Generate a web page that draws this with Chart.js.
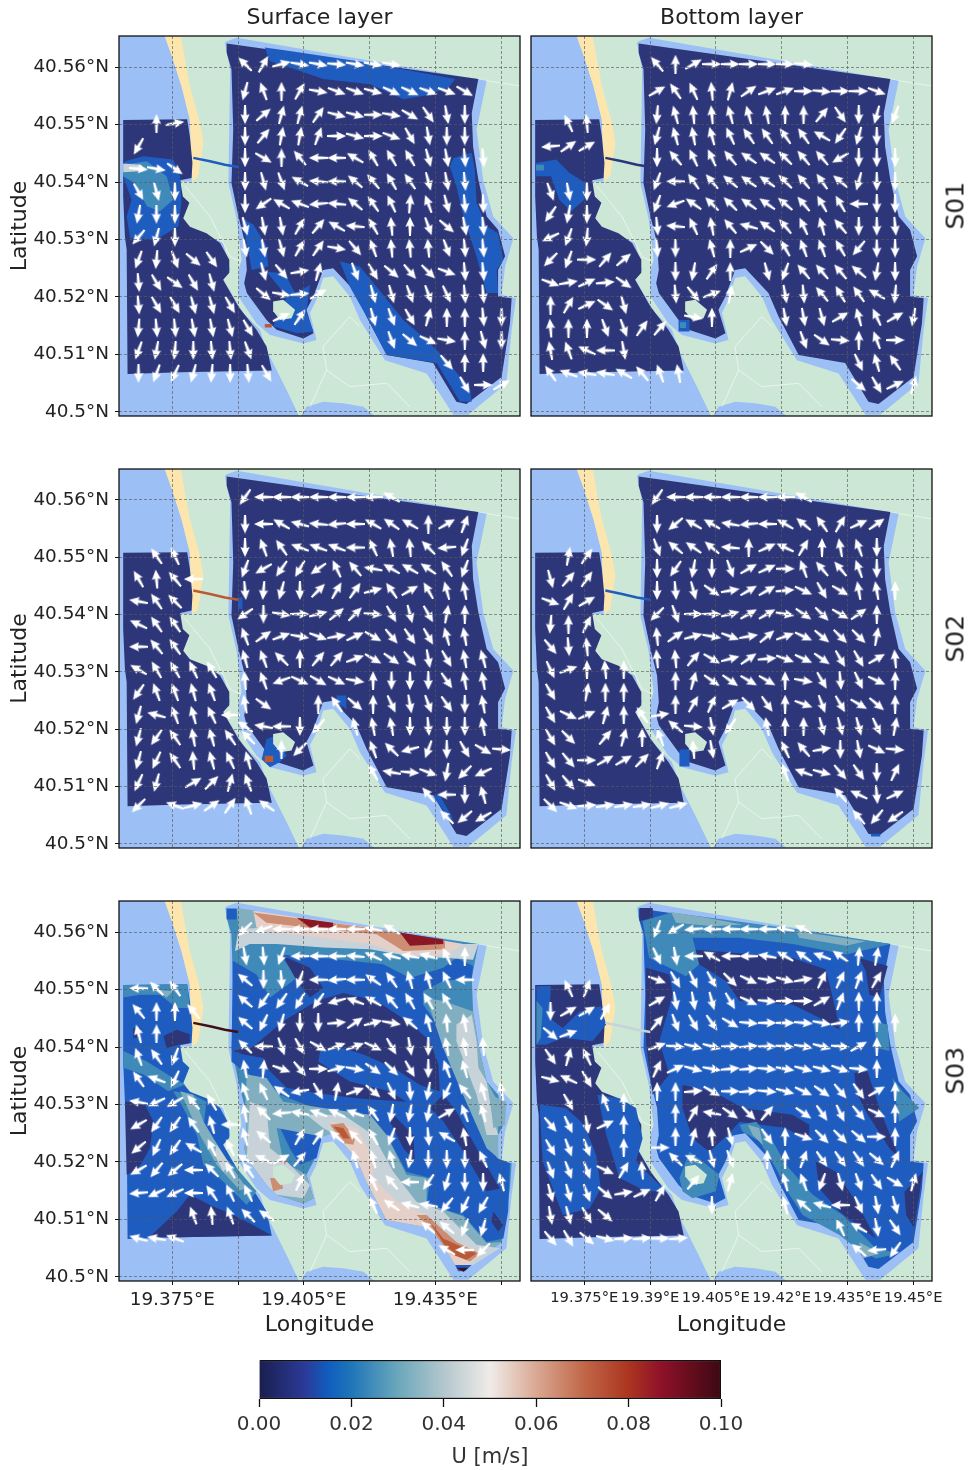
<!DOCTYPE html>
<html lang="en">
<head>
  <meta charset="UTF-8">
  <title>Surface and bottom layer currents</title>
  <style>
    body { margin: 0; background: #fff; }
    #page { position: relative; width: 968px; height: 1470px; overflow: hidden; }
    #page canvas { position: absolute; filter: blur(0.45px); }
    .run {
      position: absolute; left: 935px; width: 40px; text-align: center;
      font: 25px "DejaVu Sans", sans-serif; color: #222; transform: rotate(-90deg);
    }
  </style>
  <script src="https://cdn.jsdelivr.net/npm/chart.js"></script>
</head>
<body>
<div id="page">
  <canvas id="c0" width="525" height="420" style="left:0;top:0"></canvas>
  <canvas id="c1" width="442" height="420" style="left:526px;top:0"></canvas>
  <canvas id="c2" width="525" height="387" style="left:0;top:465px"></canvas>
  <canvas id="c3" width="442" height="387" style="left:526px;top:465px"></canvas>
  <canvas id="c4" width="525" height="443" style="left:0;top:897px"></canvas>
  <canvas id="c5" width="442" height="443" style="left:526px;top:897px"></canvas>
  <canvas id="bar" width="600" height="120" style="left:200px;top:1350px"></canvas>
  <div class="run" style="top:195px">S01</div>
  <div class="run" style="top:628px">S02</div>
  <div class="run" style="top:1060px">S03</div>
</div>

<script>
const _ = null;

// axes
const lonTicks = [19.375, 19.39, 19.405, 19.42, 19.435, 19.45];
const latTicks = [40.5, 40.51, 40.52, 40.53, 40.54, 40.55, 40.56];
const latLabels = ['40.5°N', '40.51°N', '40.52°N', '40.53°N', '40.54°N', '40.55°N', '40.56°N'];
const lonLabelsLeft = ['19.375°E', '', '19.405°E', '', '19.435°E', ''];
const lonLabelsRight = ['19.375°E', '19.39°E', '19.405°E', '19.42°E', '19.435°E', '19.45°E'];

// colour bar and contour bands (0.01 m/s steps)
const barTicks = [0, 0.02, 0.04, 0.06, 0.08, 0.1];
const barStops = [0, 0.1, 0.15, 0.2, 0.3, 0.4, 0.5, 0.6, 0.7, 0.8, 0.87, 1];
const barColors = ['#1a1f4d', '#2b3a99', '#0f5dbf', '#1f76b8', '#6aa7bb', '#b3c7cd', '#f0ebe8', '#d9a893', '#c2694a', '#ac3520', '#8f1129', '#3c0912'];
const bandColors = ['#2c3678', '#1f5cc0', '#3f8ab9', '#82afc0', '#c8d3d9', '#e5d0c9', '#cc8d73', '#b85a38', '#8a1726', '#40101a'];

// map shapes, in 1e-4 degrees east of 19.36 and north of 40.50
const lonOrigin = 19.36;
const latOrigin = 40.5;
const landShape = [[0, -20], [960, -20], [960, 670], [0, 670]];
const seaShape = [[20, 660], [130, 660], [149, 619], [171, 567], [190, 509], [194, 422], [194, 401], [168, 401], [175, 335], [198, 317], [266, 294], [282, 247], [266, 230], [312, 172], [350, 143], [365, 108], [388, 73], [411, 38], [441, -10], [20, -10]];
const bayShape = [[441, -10], [456, 9], [494, 18], [540, 15], [586, 9], [616, -10]];
const beachShape = [[130, 660], [149, 619], [171, 567], [190, 509], [194, 422], [196, 401], [209, 410], [221, 468], [213, 503], [190, 567], [179, 613], [168, 660]];
const road1 = [[179, 393], [236, 340], [282, 270], [312, 259]];
const road2 = [[464, 9], [502, 73], [494, 114], [555, 166], [578, 148]];
const road3 = [[502, 73], [555, 44], [639, 50], [692, 9]];
const road4 = [[844, 579], [943, 567]];
const mainHalo = [[274, 645], [297, 651], [867, 576], [844, 491], [859, 404], [882, 340], [928, 302], [909, 253], [901, 204], [934, 198], [924, 143], [912, 50], [825, -5], [791, -5], [730, 67], [635, 90], [578, 160], [555, 201], [517, 236], [494, 233], [479, 195], [464, 172], [479, 125], [449, 119], [373, 134], [342, 154], [301, 201], [301, 247], [308, 265], [297, 335], [278, 398], [282, 596], [270, 642]];
const leftBasin = [[38, 508], [184, 509], [190, 480], [196, 433], [194, 407], [168, 403], [174, 375], [189, 364], [175, 337], [190, 322], [228, 311], [259, 294], [280, 265], [280, 242], [266, 230], [301, 183], [342, 143], [365, 114], [377, 72], [168, 69], [48, 66], [46, 282], [42, 305], [38, 375]];
const mainBasin = [[274, 641], [848, 579], [833, 520], [836, 462], [848, 404], [867, 340], [893, 317], [909, 271], [893, 247], [893, 201], [924, 198], [920, 154], [901, 61], [821, 14], [798, 18], [745, 85], [639, 99], [593, 166], [570, 207], [517, 250], [494, 247], [472, 201], [456, 178], [472, 137], [449, 128], [388, 143], [365, 160], [320, 207], [314, 224], [320, 247], [316, 294], [301, 340], [285, 398], [289, 491], [285, 596], [274, 625]];
const islandShape = [[380, 192], [403, 195], [430, 178], [422, 163], [396, 160], [380, 175]];
const channelLine = [[198, 442], [236, 436], [270, 430], [301, 426]];
const channelColors = [bandColors[1], bandColors[0], bandColors[7], bandColors[1], bandColors[9], bandColors[4]];

// contour patches per panel: [band, outline], painted in order
const fieldS01Surface = [
  [0, leftBasin], [0, mainBasin],
  [1, [[361, 634], [418, 628], [593, 608], [795, 579], [783, 567], [738, 552], [677, 544], [601, 570], [494, 579], [418, 599], [373, 610]]],
  [1, [[42, 436], [84, 445], [152, 439], [168, 410], [171, 364], [164, 323], [114, 300], [54, 302], [46, 340], [57, 369], [38, 410]]],
  [2, [[38, 430], [92, 436], [137, 410], [152, 369], [122, 349], [92, 358], [65, 398], [38, 410]]],
  [4, [[38, 432], [80, 430], [84, 419], [38, 417]]],
  [1, [[791, 442], [833, 451], [840, 422], [844, 364], [867, 323], [893, 311], [905, 265], [890, 247], [893, 207], [867, 207], [844, 270], [814, 340], [798, 392], [783, 427]]],
  [1, [[308, 337], [335, 326], [365, 288], [369, 253], [331, 247], [320, 294]]],
  [1, [[532, 262], [578, 253], [616, 218], [677, 160], [730, 125], [768, 96], [829, 41], [833, 18], [806, 18], [753, 85], [639, 99], [593, 166], [555, 218]]],
  [1, [[365, 244], [407, 241], [430, 207], [464, 221], [456, 172], [472, 140], [434, 137], [380, 149], [411, 201]]],
  [7, [[361, 153], [377, 153], [377, 147], [361, 147]]]
];
const fieldS01Bottom = [
  [0, leftBasin], [0, mainBasin],
  [1, [[40, 433], [86, 439], [116, 416], [154, 398], [150, 369], [120, 349], [93, 369], [74, 410], [40, 410]]],
  [2, [[40, 430], [58, 430], [58, 420], [40, 420]]],
  [1, [[365, 160], [390, 160], [390, 140], [365, 140]]],
  [2, [[368, 156], [382, 156], [382, 146], [368, 146]]]
];
const fieldS02Surface = [
  [0, leftBasin], [0, mainBasin],
  [1, [[365, 183], [388, 189], [411, 154], [396, 143], [373, 134], [354, 148]]],
  [7, [[361, 154], [380, 154], [380, 143], [361, 143]]],
  [1, [[300, 430], [310, 430], [310, 410], [300, 410]]],
  [1, [[525, 259], [547, 259], [547, 235], [525, 247]]],
  [1, [[745, 85], [760, 85], [790, 45], [780, 45]]]
];
const fieldS02Bottom = [
  [0, leftBasin], [0, mainBasin],
  [1, [[367, 165], [390, 165], [390, 135], [367, 135]]],
  [1, [[804, 18], [825, 18], [825, 13], [804, 13]]]
];
const fieldS03Surface = [
  [1, leftBasin],
  [0, [[42, 305], [84, 305], [107, 271], [99, 224], [73, 189], [46, 178]]],
  [0, [[130, 419], [160, 430], [190, 422], [190, 407], [164, 404], [137, 398]]],
  [0, [[61, 433], [80, 433], [73, 416], [61, 416]]],
  [0, [[99, 70], [160, 114], [190, 143], [236, 125], [289, 108], [335, 90], [377, 72], [168, 69]]],
  [2, [[38, 508], [184, 509], [190, 468], [160, 468], [122, 491], [76, 491], [38, 486]]],
  [3, [[107, 500], [152, 497], [137, 486]]],
  [2, [[38, 393], [92, 375], [152, 346], [179, 335], [141, 323], [84, 352], [38, 364]]],
  [2, [[152, 323], [198, 317], [228, 305], [221, 259], [244, 224], [297, 189], [342, 149], [320, 125], [266, 166], [221, 195], [206, 247], [175, 294]]],
  [3, [[168, 323], [198, 317], [221, 271], [244, 241], [282, 195], [320, 154], [304, 151], [251, 195], [213, 247]]],
  [4, [[251, 230], [282, 195], [266, 183], [247, 212]]],
  [2, mainBasin],
  [3, [[297, 642], [342, 637], [350, 608], [301, 602]]],
  [1, [[274, 641], [297, 641], [297, 622], [274, 622]]],
  [1, [[288, 550], [342, 526], [373, 486], [434, 520], [396, 561], [494, 555], [631, 544], [692, 520], [768, 538], [798, 555], [836, 541], [833, 520], [768, 515], [722, 497], [722, 474], [776, 416], [806, 340], [852, 271], [890, 207], [920, 198], [916, 114], [905, 67], [867, 61], [814, 108], [730, 125], [738, 172], [684, 183], [639, 247], [601, 271], [494, 288], [396, 317], [373, 334], [312, 358], [285, 375]]],
  [1, [[396, 259], [494, 253], [479, 207], [441, 195], [418, 224]]],
  [3, [[730, 485], [768, 480], [814, 468], [836, 462], [848, 404], [867, 340], [893, 305], [893, 207], [867, 224], [806, 329], [768, 398]]],
  [4, [[798, 439], [833, 456], [844, 410], [848, 364], [867, 340], [878, 288], [893, 247], [867, 247], [844, 317], [798, 410]]],
  [3, [[874, 317], [912, 305], [909, 265], [882, 259]]],
  [0, [[335, 401], [403, 445], [479, 480], [540, 494], [616, 480], [692, 442], [738, 410], [757, 369], [760, 323], [715, 334], [654, 364], [586, 387], [540, 398], [487, 393], [483, 375], [555, 340], [646, 323], [684, 305], [570, 311], [479, 320], [411, 329], [365, 364], [358, 381], [312, 387], [289, 393]]],
  [0, [[403, 558], [464, 538], [494, 503], [464, 486], [434, 515]]],
  [0, [[768, 317], [798, 288], [844, 224], [897, 154], [867, 149], [814, 218], [768, 271], [738, 294]]],
  [0, [[654, 282], [700, 247], [703, 201], [677, 224], [646, 271]]],
  [0, [[882, 114], [905, 90], [893, 79], [878, 96]]],
  [4, [[301, 605], [358, 608], [464, 602], [616, 596], [791, 579], [848, 579], [836, 552], [776, 555], [692, 558], [601, 570], [494, 573], [388, 579], [327, 579], [293, 567]]],
  [5, [[335, 637], [593, 608], [814, 579], [776, 561], [677, 561], [601, 579], [494, 590], [388, 599], [342, 608]]],
  [6, [[335, 634], [593, 608], [772, 584], [772, 570], [677, 567], [616, 596], [494, 605], [365, 616]]],
  [8, [[434, 625], [517, 616], [517, 608], [464, 608]]],
  [8, [[669, 599], [768, 587], [768, 579], [692, 576]]],
  [3, [[320, 352], [365, 346], [403, 305], [494, 294], [601, 282], [639, 247], [684, 178], [730, 172], [730, 128], [814, 105], [867, 59], [901, 61], [821, 14], [798, 18], [745, 85], [639, 99], [593, 166], [570, 207], [517, 250], [494, 244], [388, 259], [403, 201], [456, 178], [472, 137], [449, 128], [388, 143], [365, 160], [320, 207], [314, 224], [320, 247], [316, 294]]],
  [4, [[327, 305], [365, 294], [373, 224], [411, 201], [464, 160], [449, 137], [388, 143], [365, 160], [320, 207]]],
  [4, [[456, 282], [540, 282], [608, 247], [654, 183], [707, 131], [768, 114], [844, 56], [897, 50], [821, 14], [798, 18], [745, 85], [639, 99], [593, 166], [570, 207], [517, 250], [494, 259]]],
  [5, [[510, 271], [570, 259], [608, 207], [608, 172], [662, 131], [730, 108], [798, 61], [859, 41], [814, 15], [798, 18], [745, 85], [639, 99], [593, 166], [570, 207], [525, 247]]],
  [6, [[510, 265], [540, 268], [567, 241], [563, 230], [540, 233]]],
  [6, [[707, 108], [730, 108], [798, 61], [852, 41], [829, 27], [783, 41], [738, 85]]],
  [7, [[517, 262], [540, 259], [555, 241], [540, 241]]],
  [7, [[734, 99], [768, 67], [844, 41], [821, 30], [783, 41]]],
  [1, [[795, 21], [833, 21], [817, 10], [802, 10]]],
  [9, [[798, 16], [825, 16], [814, 9]]],
  [6, [[373, 172], [396, 172], [403, 154], [380, 149]]],
  [6, [[396, 207], [411, 204], [407, 195]]]
];
const fieldS03Bottom = [
  [0, leftBasin],
  [1, [[41, 506], [74, 506], [70, 451], [101, 433], [139, 462], [188, 471], [200, 439], [169, 410], [101, 416], [63, 404], [41, 404]]],
  [2, [[41, 480], [55, 468], [51, 416], [41, 404]]],
  [1, [[48, 300], [108, 294], [150, 265], [177, 212], [188, 154], [162, 119], [101, 108], [55, 201]]],
  [1, [[180, 317], [230, 311], [268, 294], [283, 241], [268, 201], [336, 149], [291, 149], [230, 172], [200, 247]]],
  [1, mainBasin],
  [0, [[276, 642], [306, 642], [306, 625], [276, 619]]],
  [0, [[390, 570], [443, 567], [625, 555], [701, 535], [724, 462], [732, 430], [686, 451], [625, 474], [504, 480], [473, 515], [412, 544]]],
  [0, [[777, 555], [842, 541], [823, 486], [800, 491], [792, 532]]],
  [0, [[291, 538], [344, 526], [352, 491], [321, 410], [344, 352], [306, 317], [291, 404]]],
  [0, [[374, 334], [443, 323], [511, 294], [625, 282], [663, 265], [663, 236], [610, 259], [504, 270], [481, 250], [435, 218], [397, 241], [374, 294]]],
  [0, [[766, 355], [796, 358], [823, 294], [868, 207], [846, 224], [792, 288], [770, 323]]],
  [0, [[678, 201], [724, 183], [770, 131], [815, 67], [762, 96], [732, 114], [686, 154]]],
  [0, [[880, 148], [922, 183], [902, 85], [884, 108]]],
  [2, [[348, 634], [633, 605], [849, 579], [747, 561], [625, 579], [504, 590], [397, 590], [412, 544], [382, 523], [344, 538], [298, 555], [283, 619]]],
  [3, [[348, 635], [428, 625], [511, 613], [443, 610], [359, 616]]],
  [3, [[633, 602], [792, 584], [747, 576], [640, 590]]],
  [2, [[504, 265], [542, 270], [580, 236], [610, 195], [671, 143], [739, 108], [815, 50], [868, 41], [815, 32], [770, 50], [732, 73], [648, 108], [618, 143], [587, 189], [549, 236], [511, 253]]],
  [2, [[367, 172], [390, 218], [420, 201], [458, 178], [450, 149], [397, 137], [374, 149]]],
  [2, [[808, 445], [842, 439], [846, 393], [819, 398]]],
  [2, [[853, 346], [876, 323], [914, 294], [868, 270]]],
  [3, [[523, 265], [549, 259], [557, 230], [534, 247]]],
  [3, [[777, 61], [823, 41], [785, 32]]]
];

// arrow grids, direction in degrees clockwise from north
const leftLons = [19.3673, 19.3714, 19.3756, 19.3798, 19.384, 19.3882, 19.3923, 19.3965];
const leftLats = [40.5502, 40.5462, 40.5423, 40.5383, 40.5344, 40.5304, 40.5265, 40.5225, 40.5186, 40.5146, 40.5107, 40.5067];
const mainLons = [19.3916, 19.3958, 19.3999, 19.4041, 19.4083, 19.4125, 19.4167, 19.4208, 19.425, 19.4292, 19.4334, 19.4376, 19.4417, 19.4459, 19.4501];
const mainLats = [40.5605, 40.5558, 40.5517, 40.548, 40.5442, 40.5401, 40.5362, 40.5323, 40.5285, 40.5244, 40.5205, 40.5165, 40.5125, 40.5086, 40.5047];

const leftS01Surface = [
  [_, 0, 80], [210], [95, 100, 125], [150, 165, 180], [190, 180, 180], [220, 195, 180],
  [200, 185, 160, 130, 145], [175, 150, 125, 150, 165], [175, 150, 150, 165, 165, 150],
  [185, 175, 175, 170, 170, 165, 150], [200, 190, 185, 180, 175, 175, 160], [180, 200, 205, 195, 185, 180, 175, 150]
];
const mainS01Surface = [
  [315, 30, 75, 100, 100, 95, 100, 100, 100],
  [195, 340, 0, 30, 100, 110, 110, 105, 115, 115, 110, 110, 120],
  [180, 50, 15, 15, 35, 105, 105, 90, 100, 120, 145, 170, 180],
  [180, 40, 10, 10, 20, 90, 105, 90, 110, 150, 170, 180, 180],
  [180, 120, 0, 320, 270, 270, 300, 330, 330, 330, 165, 170, 175, 175],
  [180, 165, 160, 300, 275, 270, 310, 320, 330, 325, 165, 170, 175],
  [180, 235, 300, 290, 265, 275, 310, 325, 335, 5, 340, 165, 175, 178],
  [165, 170, 170, 30, 40, 300, 275, 330, 355, 0, 160, 130, 170, 175],
  [170, 170, 165, 30, 35, 100, 140, 340, 355, 355, 355, 160, 175, 175],
  [_, 165, 140, 80, 15, _, 160, 150, 130, 140, 135, 110, 175, 175],
  [_, 130, 100, 85, 60, _, _, 165, 165, 160, 160, 155, 175, 175],
  [_, _, 65, 35, _, _, _, 165, 160, 150, 15, 0, 0, 175, 180],
  [_, _, _, _, _, _, _, _, 160, 130, 115, 100, 0, 165, 180],
  [_, _, _, _, _, _, _, _, _, _, _, 140, 0, 0],
  [_, _, _, _, _, _, _, _, _, _, _, _, 150, 90, 60]
];
const leftS01Bottom = [
  [_, 335, 355], [265, 55, 60], [], [160, 170, 180], [215, 190, 180], [245, 200, 185],
  [225, 200, 90, 40, 50], [110, 80, 65, 85, 125], [0, 30, 65, 125, 165],
  [355, 0, 0, 160, 160, 35, 40], [350, 340, 295, 270, 170], [325, 290, 280, 280, 300, 320, 340, 350]
];
const mainS01Bottom = [
  [320, 0, 60, 90, 90, 90, 90, 90, 95],
  [60, 325, 335, 355, 15, 55, 70, 70, 90, 95, 90, 90, 110],
  [185, 345, 355, 355, 345, 345, 350, 0, 0, 40, 145, 180, 195, 200],
  [195, 345, 350, 345, 335, 325, 325, 325, 325, 300, 215, 195, 180],
  [180, 320, 335, 335, 320, 305, 305, 315, 320, 320, 240, 180, 180, 180],
  [200, 270, 325, 320, 310, 305, 305, 315, 320, 325, 310, 195, 180, 180],
  [200, 250, 305, 315, 315, 305, 305, 310, 320, 330, 330, 270, 180, 180],
  [175, 275, 335, 350, 320, 285, 305, 320, 335, 345, 320, 180, 180, 175],
  [175, 180, _, 345, 0, 65, 135, 330, 340, 340, 330, 220, 180, 180],
  [_, 180, 190, 35, 0, _, 165, 200, 320, 320, 320, 310, 190, 180],
  [_, 175, 140, 70, 10, _, _, 170, 175, 320, 330, 325, 300, 185],
  [_, _, 100, 0, _, _, _, 170, 170, 165, 60, 345, 335, 60, 190],
  [_, _, _, _, _, _, _, _, 160, 125, 95, 0, 340, 90],
  [_, _, _, _, _, _, _, _, _, _, _, 155, 345, 325],
  [_, _, _, _, _, _, _, _, _, _, _, 130, 150, 65, 15]
];
const leftS02Surface = [
  [_, 325, 335], [330, 355, 320, 270], [280, 325, 315], [295, 325, 325], [270, 320, 325],
  [300, 330, 330, 335, 330], [215, 340, 340, 345, 340], [195, 285, 340, 345, 335, 270],
  [195, 215, 325, 350, 345, 325, 315], [195, 205, 325, 355, 345, 335, 345],
  [205, 195, _, 60, 45, 15, 340], [225, _, 290, 75, 55, 35, 340, 305]
];
const mainS02Surface = [
  [215, 270, 270, 270, 270, 270, 270, 270, 300],
  [180, 270, 300, 285, 275, 265, 270, 300, 305, 300, 0, 60, 20],
  [180, 340, 325, 290, 290, 290, 270, 335, 350, 355, 315, 265, 200],
  [200, 240, 215, 210, 235, 335, 320, 280, 300, 300, 305, 325, 200],
  [175, 185, 195, 180, 45, 30, 35, 75, 325, 60, 330, 345, 350],
  [235, 180, 100, 90, 75, 50, 45, 95, 150, 165, 150, 10, 0],
  [340, 55, 70, 100, 110, 80, 65, 120, 140, 145, 150, 345, 350],
  [345, 340, 315, 0, 40, 40, 70, 120, 125, 140, 170, 150, 350, 345],
  [355, 340, 250, 115, 120, 115, 100, 0, 180, 180, 180, 145, 350, 350],
  [350, 125, _, _, 0, 325, 130, 0, 155, 170, 160, 145, 180, 350],
  [305, 280, 270, 180, 220, _, 345, 350, 350, 180, 175, 180, 180, 350],
  [_, _, 0, 225, _, _, _, 340, 315, 255, 200, 180, 150, 120, 95],
  [_, _, _, _, _, _, _, 330, 280, 95, 110, 190, 225, 245],
  [_, _, _, _, _, _, _, _, _, _, 320, 270, 180, 345],
  [_, _, _, _, _, _, _, _, _, _, _, 315, 230, 240]
];
const leftS02Bottom = [
  [_, 10, 35], [165, 40, 35], [110, 30, 60], [185, 0, 25], [140, 175, 355],
  [155, 70, 0, 355, 0], [150, _, 10, 0, 0], [150, 115, 65, 15, 0, 325, 80],
  [150, 135, _, 40, 15, 0, 340], [150, 140, 90, 60, 60, 45, 20], [150, 140, 110],
  [135, 110, 85, 80, 80, 80, 75, 75]
];
const mainS02Bottom = [
  [215, 270, 270, 270, 270, 270, 270, 270, 300],
  [180, 230, 300, 300, 280, 265, 270, 300, 310, 325, 30, 65, 55],
  [160, 310, 305, 310, 275, 0, 65, 295, 30, 0, 350, 340, 180],
  [180, 215, 190, 180, 160, 60, 65, 90, 340, 320, 320, 340, 180],
  [180, 175, 165, 125, 80, 60, 60, 85, 115, 150, 120, 350, 350, 0],
  [225, 160, 90, 90, 75, 60, 60, 100, 125, 135, 120, 55, 0],
  [355, 55, 75, 100, 110, 80, 50, 70, 115, 130, 135, 135, 10],
  [355, 355, 40, 120, 75, 55, 85, 110, 115, 125, 150, 150, 60, 355],
  [_, 0, 15, 125, 125, 120, 120, 0, 100, 150, 175, 155, 115, 0],
  [_, 0, 30, 25, 60, 135, 145, 0, 110, 160, 150, 120, 130, 0],
  [_, 310, 95, 170, 215, _, 350, 0, 0, 165, 165, 165, 155, 10],
  [_, _, 355, 170, _, _, _, 335, 320, 80, 180, 170, 115, 95],
  [_, _, _, _, _, _, _, 340, 290, 105, 140, 145, 180, 25],
  [_, _, _, _, _, _, _, _, _, _, 320, 295, 175, 65],
  [_, _, _, _, _, _, _, _, _, _, _, 320, 220, 235]
];
const leftS03Surface = [
  [270, 315, 325], [320, 0, 0, 320], [345, 0], [340, 325, 200], [325, 290, 205],
  [280, 245, 240, 320, 330], [240, 215, 215, 325, 345, 270], [230, 205, 215, 300, 335, 335],
  [240, 220, 230, 270, 315, 330, 325], [265, 245, 245, 270, 325, 335, 335],
  [_, _, _, 340, 355, 340, 315, 305], [285, 280, 290]
];
const mainS03Surface = [
  [225, 250, 270, 270, 270, 270, 270, 280, 300],
  [170, 175, 200, 270, 270, 270, 275, 295, 285, 280, 285, 335, 0],
  [310, 180, 175, 200, 270, 265, 270, 305, 325, 345, 345, 335, 270],
  [310, 215, 215, 210, 215, 255, 290, 300, 320, 330, 330, 330],
  [310, 205, 195, 180, 180, 85, 55, 75, 100, 310, 345, 355, 350],
  [315, 270, 160, 150, 120, 70, 70, 115, 150, 170, 180, 350, 350, 355],
  [350, 5, 110, 140, 90, 75, 100, 125, 135, 150, 180, 340, 345],
  [340, 335, 305, 260, 150, 10, 70, 130, 155, 175, 190, 205, 320, 345, 350],
  [350, 315, 265, 280, 290, 295, 290, 325, 190, 190, 190, 60, 340, 345],
  [345, 310, _, 30, 35, 310, 315, 330, 200, 180, 175, 300, 350],
  [300, 295, 60, 40, _, _, 345, 345, 345, 190, 180, 180, 180, 335],
  [_, _, _, 25, _, _, _, 335, 320, 270, 215, 195, 180, 180, 345],
  [_, _, _, _, _, _, _, 335, 305, 285, 280, 220, 205, 210],
  [_, _, _, _, _, _, _, _, _, _, 310, 310, 200, 195],
  [_, _, _, _, _, _, _, _, _, _, _, 300, 270, 225]
];
const leftS03Bottom = [
  [_, 335, 20], [180, 60, 60, 30], [130, 70], [145, 15, 335], [105, 295, 150],
  [_, 150, _, 340, 0], [140, 155, 170, 65, 0], [150, 160, 160, _, 0, _, 90],
  [160, 160, 160, 115, 30, 355], [165, 165, 160, 130, 80, 65, 30], [170, 165, 150, 130],
  [140, 150, 130, 105, 85, 85, 90, 85]
];
const mainS03Bottom = [
  [200, 240, 265, 270, 270, 270, 270, 280, 295],
  [155, 170, 270, 300, 270, 270, 280, 300, 305, 290, 305, 5, 10],
  [110, 150, 155, 150, 135, 115, 100, 105, 80, 25, 25, 20, 30],
  [60, 170, 170, 165, 150, 115, 95, 90, 90, 60, 20, 0, 0],
  [40, 160, 150, 145, 120, 95, 90, 90, 95, 100, 80, 0, 0, 0],
  [70, 95, 105, 105, 90, 85, 90, 95, 100, 105, 95, 60, 0],
  [25, 65, 105, 100, 85, 85, 95, 100, 105, 105, 110, 95, 0],
  [0, 0, 85, 120, 90, 85, 95, 105, 115, 125, 140, 145, 60, 0],
  [_, 0, 30, 280, 125, 135, 40, _, 125, 145, 155, 140, 115, 0],
  [_, 0, 15, 355, 165, _, 145, 0, 110, 135, 135, 130, 90, 0],
  [_, 315, 295, 165, 160, _, 0, 0, 20, 145, 145, 145, 130, 25],
  [_, _, 40, _, 15, _, _, 345, 340, 200, 165, 160, 145, 120, 15],
  [_, _, _, 180, _, _, _, 345, 310, 285, 270, 155, 170, 165],
  [_, _, _, _, _, _, _, _, _, _, 335, 300, 170, 145],
  [_, _, _, _, _, _, _, _, _, _, _, 310, 265, 215]
];

function toPoints(shape) {
  return shape.map(p => ({ x: lonOrigin + p[0] * 1e-4, y: latOrigin + p[1] * 1e-4 }));
}
function area(shape, color) {
  return { data: toPoints(shape), showLine: true, fill: 'shape', backgroundColor: color, borderColor: color, borderWidth: 0, pointRadius: 0, tension: 0 };
}
function line(shape, color, width) {
  return { data: toPoints(shape), showLine: true, fill: false, borderColor: color, borderWidth: width, pointRadius: 0, tension: 0 };
}

// white quiver arrow, points up before rotation
const arrowImg = document.createElement('canvas');
arrowImg.width = 10;
arrowImg.height = 19;
const actx = arrowImg.getContext('2d');
actx.fillStyle = '#fff';
actx.beginPath();
actx.moveTo(5, 0);
actx.lineTo(9.6, 10);
actx.lineTo(6.6, 9);
actx.lineTo(6, 19);
actx.lineTo(4, 19);
actx.lineTo(3.4, 9);
actx.lineTo(0.4, 10);
actx.closePath();
actx.fill();

function arrows(leftGrid, mainGrid) {
  const pts = [];
  const rot = [];
  const add = (grid, lons, lats) => grid.forEach((row, r) => row.forEach((deg, c) => {
    if (deg === null) return;
    pts.push({ x: lons[c], y: lats[r] });
    rot.push(deg);
  }));
  add(leftGrid, leftLons, leftLats);
  add(mainGrid, mainLons, mainLats);
  return { data: pts, pointStyle: arrowImg, pointRotation: rot, pointRadius: 8, showLine: false };
}

const frame = {
  id: 'frame',
  afterDraw(chart) {
    const a = chart.chartArea;
    const c = chart.ctx;
    c.save();
    c.strokeStyle = '#111';
    c.lineWidth = 1.3;
    c.strokeRect(a.left, a.top, a.right - a.left, a.bottom - a.top);
    c.restore();
  }
};

// keep every panel frame at the same place whatever the tick labels need
function noMargins(s) {
  s.paddingLeft = 0;
  s.paddingRight = 0;
  s.paddingTop = 0;
  s.paddingBottom = 0;
}

const font = '"DejaVu Sans", sans-serif';
const panels = [
  { id: 'c0', field: fieldS01Surface, left: leftS01Surface, main: mainS01Surface, col: 0, row: 0, title: 'Surface layer' },
  { id: 'c1', field: fieldS01Bottom, left: leftS01Bottom, main: mainS01Bottom, col: 1, row: 0, title: 'Bottom layer' },
  { id: 'c2', field: fieldS02Surface, left: leftS02Surface, main: mainS02Surface, col: 0, row: 1 },
  { id: 'c3', field: fieldS02Bottom, left: leftS02Bottom, main: mainS02Bottom, col: 1, row: 1 },
  { id: 'c4', field: fieldS03Surface, left: leftS03Surface, main: mainS03Surface, col: 0, row: 2 },
  { id: 'c5', field: fieldS03Bottom, left: leftS03Bottom, main: mainS03Bottom, col: 1, row: 2 }
];

panels.forEach((p, i) => {
  const layers = [
    area(landShape, '#cce7d6'),
    area(seaShape, '#9cc0f6'),
    area(bayShape, '#9cc0f6'),
    area(beachShape, '#fde6ae'),
    line(road1, 'rgba(255,255,255,.55)', 1),
    line(road2, 'rgba(255,255,255,.55)', 1),
    line(road3, 'rgba(255,255,255,.55)', 1),
    line(road4, 'rgba(255,255,255,.55)', 1),
    area(mainHalo, '#9cc0f6')
  ];
  p.field.forEach(f => layers.push(area(f[1], bandColors[f[0]])));
  layers.push(area(islandShape, '#cce7d6'));
  layers.push(line(channelLine, channelColors[i], 2.5));
  layers.push(arrows(p.left, p.main));
  // first dataset is painted last unless order says otherwise
  layers.forEach((d, k) => { d.order = layers.length - k; });

  const last = p.row === 2;
  new Chart(document.getElementById(p.id), {
    type: 'scatter',
    data: { datasets: layers },
    plugins: [frame],
    options: {
      responsive: false,
      animation: false,
      events: [],
      layout: { autoPadding: false, padding: { top: p.row === 0 ? 0 : 4, right: p.col === 0 ? 5 : 36, bottom: last ? 0 : 4, left: 0 } },
      plugins: {
        legend: { display: false },
        tooltip: { enabled: false },
        title: {
          display: p.row === 0,
          text: p.title,
          fullSize: false,
          color: '#222',
          font: { family: font, size: 22, weight: 'normal' },
          padding: { top: 5, bottom: 4.6 }
        }
      },
      scales: {
        x: {
          type: 'linear',
          min: 19.36285,
          max: 19.4543,
          afterBuildTicks: s => { s.ticks = lonTicks.map(v => ({ value: v })); },
          afterFit: s => { s.height = last ? 59 : 0; noMargins(s); },
          border: { display: false, dash: [3, 2] },
          grid: { z: 1, color: 'rgba(90,90,90,.65)', lineWidth: 1, drawTicks: last, tickLength: 4, tickColor: '#111' },
          ticks: {
            display: last,
            autoSkip: false,
            maxRotation: 0,
            padding: 4,
            color: '#222',
            font: { family: font, size: p.col === 0 ? 18.4 : 14.7 },
            callback: (v, k) => (p.col === 0 ? lonLabelsLeft : lonLabelsRight)[k]
          },
          title: {
            display: last,
            text: 'Longitude',
            color: '#222',
            font: { family: font, size: 22 },
            padding: { top: 0, bottom: 2 }
          }
        },
        y: {
          type: 'linear',
          min: 40.4993,
          max: 40.5654,
          afterBuildTicks: s => { s.ticks = latTicks.map(v => ({ value: v })); },
          afterFit: s => { s.width = p.col === 0 ? 119 : 5; noMargins(s); },
          border: { display: false, dash: [3, 2] },
          grid: { z: 1, color: 'rgba(90,90,90,.65)', lineWidth: 1, drawTicks: p.col === 0, tickLength: 4, tickColor: '#111' },
          ticks: {
            display: p.col === 0,
            autoSkip: false,
            padding: 6,
            color: '#222',
            font: { family: font, size: 18.4 },
            callback: (v, k) => latLabels[k]
          },
          title: {
            display: p.col === 0,
            text: 'Latitude',
            color: '#222',
            font: { family: font, size: 22 },
            padding: { top: 7, bottom: 0 }
          }
        }
      }
    }
  });
});

// colour bar
new Chart(document.getElementById('bar'), {
  type: 'bar',
  data: {
    labels: ['U'],
    datasets: [{
      data: [[barTicks[0], barTicks[barTicks.length - 1]]],
      barPercentage: 1,
      categoryPercentage: 1,
      borderWidth: 1.5,
      borderColor: '#111',
      backgroundColor: ctx => {
        const a = ctx.chart.chartArea;
        if (!a) return barColors[0];
        const g = ctx.chart.ctx.createLinearGradient(a.left, 0, a.right, 0);
        barStops.forEach((s, i) => g.addColorStop(s, barColors[i]));
        return g;
      }
    }]
  },
  options: {
    indexAxis: 'y',
    responsive: false,
    animation: false,
    events: [],
    layout: { autoPadding: false, padding: { top: 10, left: 59, right: 79, bottom: 0 } },
    plugins: { legend: { display: false }, tooltip: { enabled: false } },
    scales: {
      x: {
        type: 'linear',
        min: 0,
        max: 0.1,
        afterBuildTicks: s => { s.ticks = barTicks.map(v => ({ value: v })); },
        afterFit: s => { s.height = 71; noMargins(s); },
        border: { display: false },
        grid: { drawOnChartArea: false, tickLength: 8, tickColor: '#111', tickWidth: 1.3 },
        ticks: { color: '#333', padding: 6, maxRotation: 0, autoSkip: false, font: { family: font, size: 20 }, callback: v => v.toFixed(2) },
        title: { display: true, text: 'U [m/s]', color: '#333', font: { family: font, size: 21 }, padding: { top: 5, bottom: 0 } }
      },
      y: { display: false }
    }
  }
});
</script>
</body>
</html>
